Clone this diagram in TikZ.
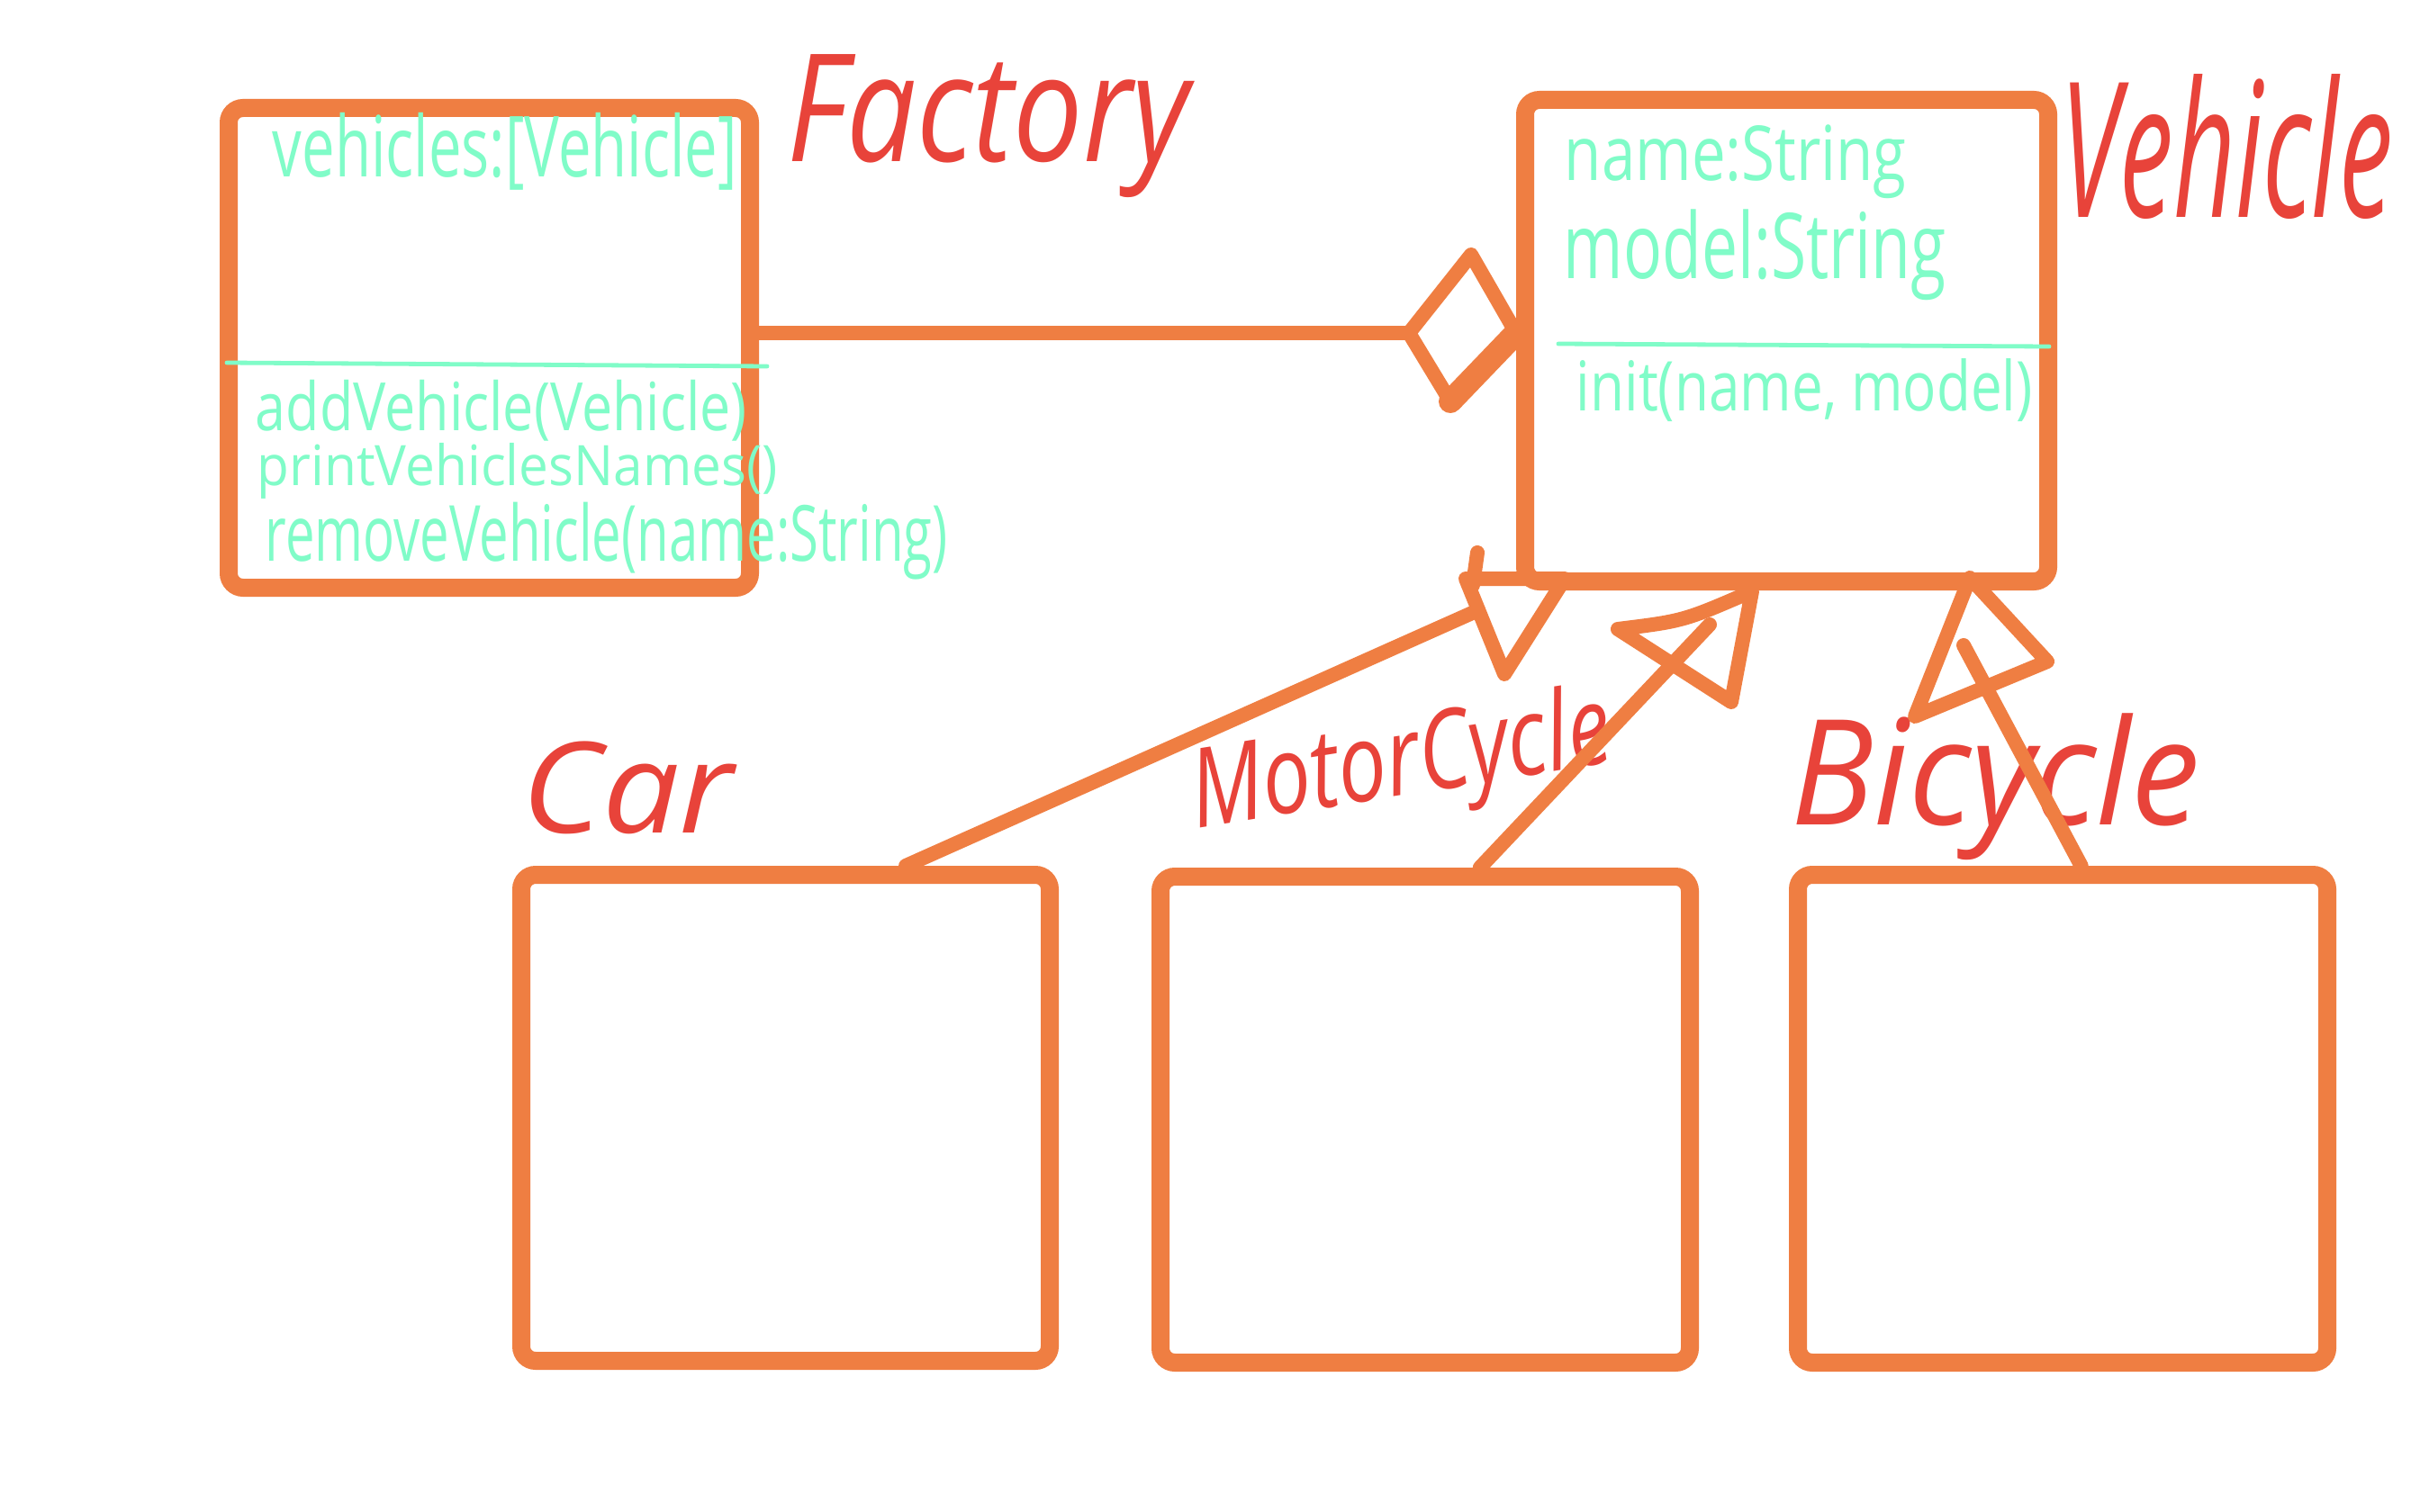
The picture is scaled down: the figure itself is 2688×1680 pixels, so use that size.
\documentclass[tikz,border=0pt]{standalone}
\usepackage{fontspec}
\setmainfont{Open Sans}
\usepackage{graphicx}
\usetikzlibrary{calc}
\definecolor{boxor}{HTML}{EF7E42}
\definecolor{hred}{HTML}{E8433A}
\definecolor{mint}{HTML}{80FCC8}
\newdimen\px \px=0.25pt
\newcommand{\fitt}[3]{\resizebox*{#1\px}{#2\px}{#3}}
\begin{document}
\begin{tikzpicture}[x=0.25pt,y=-0.25pt,
  cls/.style={draw=boxor, line width=5pt, rounded corners=4pt, inner sep=0pt},
  conn/.style={draw=boxor, line width=4pt, line cap=round, line join=round},
  divider/.style={draw=mint, line width=1.2pt, line cap=round},
  mtext/.style={text=mint, inner sep=0pt, anchor=north west},
  rtext/.style={text=hred, inner sep=0pt, anchor=north west, font=\itshape}]
\useasboundingbox (0,0) rectangle (2688,1680);
\fill[white] (0,0) rectangle (2688,1680);
% class boxes
\node[cls, minimum width=144.75pt, minimum height=133.25pt] (factory) at (543.5,386.5) {};
\node[cls, minimum width=145.25pt, minimum height=133.75pt] (vehicle) at (1984.5,378.5) {};
\node[cls, minimum width=146.75pt, minimum height=135pt] (car) at (872.5,1242) {};
\node[cls, minimum width=147pt, minimum height=135pt] (motor) at (1583,1244) {};
\node[cls, minimum width=147pt, minimum height=135.5pt] (bicycle) at (2291,1243) {};
% Factory members
\node[mtext] (fattr) at (302,125) {\fitt{516}{86}{vehicles:[Vehicle]}};
\draw[divider] (252,403) -- (852,407);
\node[mtext] (fm1) at (283,421) {\fitt{546}{68}{addVehicle(Vehicle)}};
\node[mtext] (fm2) at (285,492) {\fitt{578}{62}{printVehiclesNames()}};
\node[mtext] (fm3) at (294,557) {\fitt{758}{86}{removeVehicle(name:String)}};
% Vehicle members
\node[mtext] (va1) at (1737,138) {\fitt{380}{82}{name:String}};
\node[mtext] (va2) at (1736,232) {\fitt{425}{101}{model:String}};
\draw[divider] (1731,382) -- (2276,385);
\node[mtext] (vm1) at (1750,398) {\fitt{507}{70}{init(name, model)}};
% labels
\node[rtext] (lfactory) at (874,60) {\fitt{446}{159}{Factory}};
\node[rtext] (lvehicle) at (2288,82) {\fitt{369}{161}{Vehicle}};
\node[rtext] (lcar) at (579,823) {\fitt{235}{103}{Car}};
\node[text=hred, inner sep=0pt, rotate=9, font=\itshape] (lmotor) at (1557,852) {\fitt{470}{122}{MotorCycle}};
\node[rtext] (lbicycle) at (1989,792) {\fitt{454}{163}{Bicycle}};
% aggregation
\coordinate (dL) at (1565,370);
\coordinate (dT) at (1634,283);
\coordinate (dB) at (1611,446);
\draw[conn] (factory.east |- dL) -- (dL);
\draw[conn] (dL) -- (dT) -- (vehicle.west |- dL) -- (dB) -- cycle;
\draw[conn, line width=6.5pt] (vehicle.west |- dL) -- (dB);
% car generalization
\coordinate (carEnd) at (1642,678);
\coordinate (ct1) at (1628,643);
\coordinate (ct2) at (1738,643);
\coordinate (ct3) at (1671,749);
\draw[conn] ($(car.north west)!0.72!(car.north east)$) -- (carEnd);
\draw[conn] (ct1) -- (ct2) -- (ct3) -- cycle;
\draw[conn] (1641,614) -- (1636,650);
% motorcycle generalization
\coordinate (motEnd) at (1899,694);
\coordinate (mt1) at (1797,699);
\coordinate (mt2) at (1946,657);
\coordinate (mt3) at (1923,780);
\draw[conn] ($(motor.north west)!0.6!(motor.north east)$) -- (motEnd);
\draw[conn] (mt1) .. controls (1870,690) .. (mt2) -- (mt3) -- cycle;
% bicycle generalization
\coordinate (bicEnd) at (2181,717);
\coordinate (bt1) at (2188,642);
\coordinate (bt2) at (2274,735);
\coordinate (bt3) at (2127,796);
\draw[conn] ($(bicycle.north west)!0.534!(bicycle.north east)$) -- (bicEnd);
\draw[conn] (bt1) -- (bt2) -- (bt3) -- cycle;
\end{tikzpicture}
\end{document}
